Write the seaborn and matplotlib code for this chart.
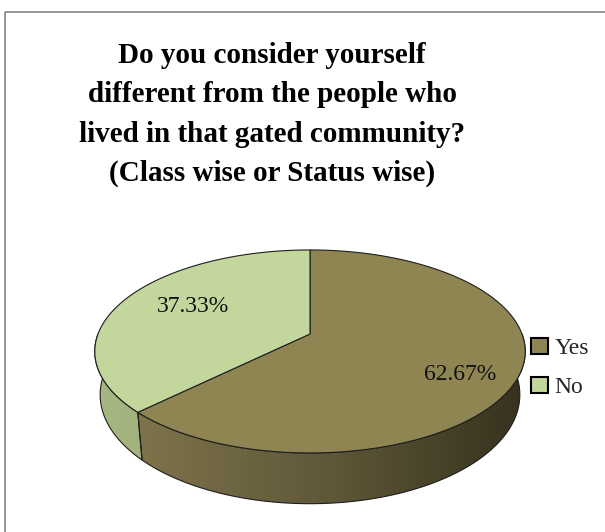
import numpy as np
import matplotlib
matplotlib.use("Agg")
import matplotlib.pyplot as plt
from matplotlib.patches import Polygon, Rectangle, Patch
from matplotlib.colors import to_rgb
import seaborn as sns

# Survey answers
categories = ["Yes", "No"]
shares = [62.67, 37.33]
value_labels = ["62.67%", "37.33%"]
title_lines = ["Do you consider yourself",
               "different from the people who",
               "lived in that gated community?",
               "(Class wise or Status wise)"]

top_colors = ["#8F8552", "#C3D69B"]
side_colors = [["#7E734A", "#5E5738", "#36311E"], ["#A8B883", "#A2B27D"]]

sns.set_theme(style="white")
plt.rcParams["font.family"] = ["Liberation Serif", "DejaVu Serif"]

fig = plt.figure(figsize=(6.05, 5.32), dpi=100)
ax = fig.add_axes([0, 0, 1, 1])
ax.set_xlim(0, 605)
ax.set_ylim(532, 0)
ax.axis("off")

# chart-area border
ax.add_patch(Rectangle((5, 12), 700, 600, fill=False, edgecolor="#8C8C8C", lw=1.3))

# tilted disc with mild perspective (front edge appears larger)
cx, cy = 310.0, 334.0
a, b, k = 212.0, 98.5, 0.172
depth = 42.0
shrink = 0.975


def top_pt(t):
    d = -np.sin(t)
    s = 1.0 / (1.0 - k * d)
    return cx + a * np.cos(t) * s, cy + b * d * s


def bot_pt(t):
    d = -np.sin(t)
    s = 1.0 / (1.0 - k * d)
    x, y = top_pt(t)
    return cx + (x - cx) * shrink, y + depth * s


# slice angles: clockwise from 12 o'clock
total = float(sum(shares))
bounds = [np.pi / 2]
for v in shares:
    bounds.append(bounds[-1] - 2 * np.pi * v / total)

edge = dict(edgecolor="#1E1E1E", lw=0.8)

# outer walls (front half only: angles between pi and 2*pi)
for i, (t0, t1) in enumerate(zip(bounds[:-1], bounds[1:])):
    lo, hi = min(t0, t1), max(t0, t1)
    segs = []
    for shift in (0, 2 * np.pi, -2 * np.pi):
        s0, s1 = max(lo + shift, np.pi), min(hi + shift, 2 * np.pi)
        if s1 > s0:
            segs.append((s0, s1))
    for s0, s1 in segs:
        tt = np.linspace(s0, s1, 200)
        tx, ty = top_pt(tt)
        bx, by = bot_pt(tt)
        verts = np.column_stack([np.r_[tx, bx[::-1]], np.r_[ty, by[::-1]]])
        poly = Polygon(verts, closed=True, facecolor="none", zorder=2, **edge)
        ax.add_patch(poly)
        stops = np.array([to_rgb(c) for c in side_colors[i]])
        n = 256
        pos = np.linspace(0, 1, len(stops))
        grad = np.stack([np.interp(np.linspace(0, 1, n), pos, stops[:, c]) for c in range(3)], axis=-1)
        x0, x1 = verts[:, 0].min(), verts[:, 0].max()
        y0, y1 = verts[:, 1].min(), verts[:, 1].max()
        im = ax.imshow(grad[None, :, :], extent=(x0, x1, y1, y0), aspect="auto",
                       interpolation="bilinear", zorder=1)
        im.set_clip_path(Polygon(verts, closed=True, transform=ax.transData))

# top faces
for i, (t0, t1) in enumerate(zip(bounds[:-1], bounds[1:])):
    tt = np.linspace(t0, t1, 300)
    tx, ty = top_pt(tt)
    verts = np.column_stack([np.r_[cx, tx], np.r_[cy, ty]])
    ax.add_patch(Polygon(verts, closed=True, facecolor=top_colors[i], zorder=3, **edge))

# value labels
ax.text(460, 374, value_labels[0], ha="center", va="center", fontsize=17, color="#111111", zorder=5)
ax.text(193, 306, value_labels[1], ha="center", va="center", fontsize=17, color="#111111", zorder=5)

# title, one baseline per line
for j, line in enumerate(title_lines):
    ax.text(272, 63 + 39.3 * j, line, ha="center", va="baseline", fontsize=21,
            fontweight="bold", color="black", zorder=5)

# legend
handles = [Patch(facecolor=c, edgecolor="black", lw=1.5) for c in top_colors]
ax.legend(handles, categories, loc="center left", bbox_to_anchor=(531, 368),
          bbox_transform=ax.transData, frameon=False, fontsize=17,
          handlelength=0.7, handleheight=0.7, handletextpad=0.3,
          labelspacing=0.75, borderpad=0, borderaxespad=0)

fig.savefig("out.png", dpi=100)
